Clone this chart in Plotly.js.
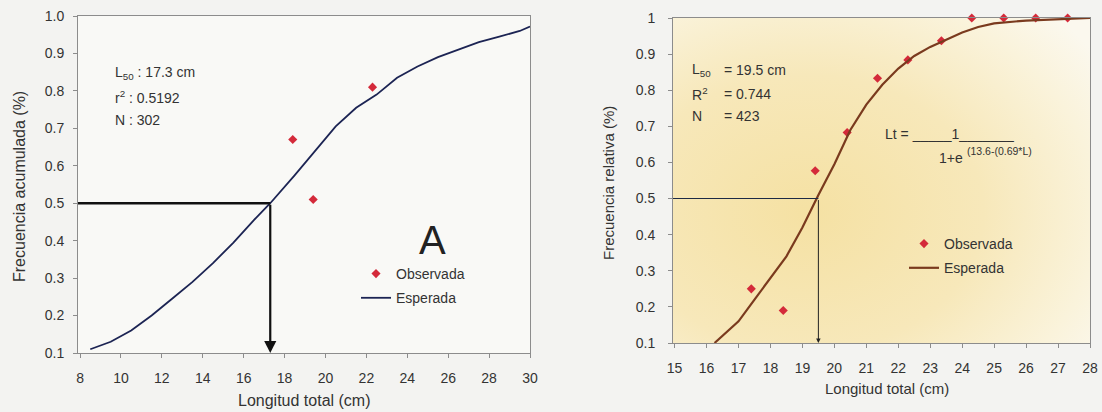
<!DOCTYPE html>
<html>
<head>
<meta charset="utf-8">
<script src="https://cdn.plot.ly/plotly-3.0.1.min.js"></script>
<style>html,body{margin:0;padding:0;background:#f3f3f1;}#chart{width:1102px;height:412px;}</style>
</head>
<body>
<div id="chart"></div>
<script>
// ---- Left chart (A) data ----
const leftCurveX = [8.5, 9.5, 10.5, 11.5, 12.5, 13.5, 14.5, 15.5, 16.5, 17.3, 18.5, 19.5, 20.5, 21.5, 22.5, 23.5, 24.5, 25.5, 26.5, 27.5, 28.5, 29.5, 30];
const leftCurveY = [0.11, 0.13, 0.16, 0.2, 0.245, 0.29, 0.34, 0.395, 0.455, 0.5, 0.575, 0.64, 0.705, 0.755, 0.79, 0.835, 0.865, 0.89, 0.91, 0.93, 0.945, 0.96, 0.972];
const leftObsX = [18.4, 19.4, 22.3];
const leftObsY = [0.67, 0.51, 0.81];
const leftL50 = 17.3;
const leftXTicks = [8, 10, 12, 14, 16, 18, 20, 22, 24, 26, 28, 30];
const leftYTicks = [0.1, 0.2, 0.3, 0.4, 0.5, 0.6, 0.7, 0.8, 0.9, 1.0];
const leftYTickText = ["0.1", "0.2", "0.3", "0.4", "0.5", "0.6", "0.7", "0.8", "0.9", "1.0"];

// ---- Right chart data ----
const rightCurveX = [16.25, 16.5, 17, 17.5, 18, 18.5, 19, 19.5, 20, 20.5, 21, 21.5, 22, 22.5, 23, 23.5, 24, 24.5, 25, 26, 27, 28];
const rightCurveY = [0.10, 0.12, 0.16, 0.22, 0.28, 0.34, 0.42, 0.51, 0.595, 0.69, 0.76, 0.815, 0.86, 0.895, 0.92, 0.94, 0.96, 0.975, 0.985, 0.993, 0.997, 1.0];
const rightObsX = [17.4, 18.4, 19.4, 20.4, 21.35, 22.3, 23.35, 24.3, 25.3, 26.3, 27.3];
const rightObsY = [0.25, 0.19, 0.577, 0.683, 0.833, 0.884, 0.937, 1.0, 1.0, 1.0, 1.0];
const rightL50 = 19.5;
const rightXTicks = [15, 16, 17, 18, 19, 20, 21, 22, 23, 24, 25, 26, 27, 28];
const rightYTicks = [0.1, 0.2, 0.3, 0.4, 0.5, 0.6, 0.7, 0.8, 0.9, 1.0];
const rightYTickText = ["0.1", "0.2", "0.3", "0.4", "0.5", "0.6", "0.7", "0.8", "0.9", "1"];

const W = 1102, H = 412;
const px = v => v / W;
const py = v => 1 - v / H;
const FONT = "Arial, 'Liberation Sans', sans-serif";
const TXT = "#333333";
const OBS = "#d42a3a";

const leftXRange = [7.9, 30];
const rightXRange = [14.95, 28];

const traces = [
  {x: leftObsX, y: leftObsY, xaxis: 'x', yaxis: 'y', type: 'scatter', mode: 'markers', name: 'Observada',
   marker: {symbol: 'diamond', size: 7, color: OBS}, legend: 'legend', legendgroup: 'a1', cliponaxis: false},
  {x: leftCurveX, y: leftCurveY, xaxis: 'x', yaxis: 'y', type: 'scatter', mode: 'lines', name: 'Esperada',
   line: {color: '#1c2453', width: 1.8}, legend: 'legend', legendgroup: 'a2'},
  {x: rightObsX, y: rightObsY, xaxis: 'x2', yaxis: 'y2', type: 'scatter', mode: 'markers', name: 'Observada',
   marker: {symbol: 'diamond', size: 7, color: OBS}, legend: 'legend2', legendgroup: 'b1', cliponaxis: false},
  {x: rightCurveX, y: rightCurveY, xaxis: 'x2', yaxis: 'y2', type: 'scatter', mode: 'lines', name: 'Esperada',
   line: {color: '#7a3a1e', width: 2.2}, legend: 'legend2', legendgroup: 'b2'}
];

const axisCommon = {
  showgrid: false, zeroline: false, showline: true, mirror: true, linecolor: '#8c8c8c', linewidth: 1,
  ticks: 'outside', ticklen: 4, tickcolor: '#8c8c8c',
  tickfont: {family: FONT, size: 14, color: TXT}, fixedrange: true
};

// gradient background for right plot
const svgBg = '<svg xmlns="http://www.w3.org/2000/svg" width="420" height="330" preserveAspectRatio="none">' +
  '<defs><radialGradient id="g" cx="0.32" cy="0.6" r="0.85" fx="0.32" fy="0.6">' +
  '<stop offset="0" stop-color="#f5e1a3"/><stop offset="0.5" stop-color="#f7e8ba"/>' +
  '<stop offset="0.82" stop-color="#faf3db"/><stop offset="1" stop-color="#fbf8ee"/></radialGradient></defs>' +
  '<rect width="420" height="330" fill="url(#g)"/></svg>';
const bgSrc = 'data:image/svg+xml;base64,' + btoa(svgBg);

const ann = (x, y, text, size, extra) => Object.assign({
  xref: 'paper', yref: 'paper', x: px(x), y: py(y), text: text, showarrow: false,
  xanchor: 'left', yanchor: 'middle', font: {family: FONT, size: size, color: TXT}
}, extra || {});

const layout = {
  width: W, height: H,
  margin: {l: 0, r: 0, t: 0, b: 0},
  paper_bgcolor: '#f3f3f1',
  plot_bgcolor: 'rgba(0,0,0,0)',
  xaxis: Object.assign({}, axisCommon, {domain: [px(78), px(530)], range: leftXRange, tickvals: leftXTicks, anchor: 'y', ticklabelstandoff: 8}),
  yaxis: Object.assign({}, axisCommon, {domain: [py(353), py(16)], range: [0.1, 1.0], tickvals: leftYTicks, ticktext: leftYTickText, anchor: 'x', ticklabelstandoff: 6}),
  xaxis2: Object.assign({}, axisCommon, {domain: [px(673), px(1090)], range: rightXRange, tickvals: rightXTicks, anchor: 'y2', ticklabelstandoff: 8}),
  yaxis2: Object.assign({}, axisCommon, {domain: [py(343), py(18)], range: [0.1, 1.0], tickvals: rightYTicks, ticktext: rightYTickText, anchor: 'x2', ticklabelstandoff: 10}),
  legend: {x: px(356), y: py(258), xanchor: 'left', yanchor: 'top', bgcolor: 'rgba(0,0,0,0)',
           font: {family: FONT, size: 14, color: TXT}, traceorder: 'grouped', tracegroupgap: 3, itemwidth: 30},
  legend2: {x: px(904), y: py(228), xanchor: 'left', yanchor: 'top', bgcolor: 'rgba(0,0,0,0)',
           font: {family: FONT, size: 14, color: TXT}, traceorder: 'grouped', tracegroupgap: 3, itemwidth: 30},
  images: [{source: bgSrc, xref: 'x2 domain', yref: 'y2 domain', x: 0, y: 1, sizex: 1, sizey: 1,
            sizing: 'stretch', xanchor: 'left', yanchor: 'top', layer: 'below'}],
  shapes: [
    {type: 'rect', xref: 'x domain', yref: 'y domain', x0: 0, x1: 1, y0: 0, y1: 1, fillcolor: '#f9f9f6', line: {width: 0}, layer: 'below'},
    {type: 'line', xref: 'x', yref: 'y', x0: leftXRange[0], x1: leftL50, y0: 0.5, y1: 0.5, line: {color: '#111111', width: 2.6}},
    {type: 'line', xref: 'x2', yref: 'y2', x0: rightXRange[0], x1: rightL50, y0: 0.5, y1: 0.5, line: {color: '#1d2a44', width: 1.1}}
  ],
  annotations: [
    {x: leftL50, y: 0.1, ax: leftL50, ay: 0.5, xref: 'x', yref: 'y', axref: 'x', ayref: 'y', text: '',
     showarrow: true, arrowhead: 2, arrowsize: 1.1, arrowwidth: 2.2, arrowcolor: '#111111', standoff: 0, startstandoff: 0},
    {x: rightL50, y: 0.1, ax: rightL50, ay: 0.5, xref: 'x2', yref: 'y2', axref: 'x2', ayref: 'y2', text: '',
     showarrow: true, arrowhead: 2, arrowsize: 0.9, arrowwidth: 1, arrowcolor: '#222222', standoff: 0, startstandoff: 0},
    ann(113, 73, 'L<sub>50</sub> : 17.3 cm', 14),
    ann(113, 97, 'r<sup>2</sup> : 0.5192', 14),
    ann(113, 120, 'N : 302', 14),
    ann(432, 240, 'A', 40, {xanchor: 'center', font: {family: FONT, size: 40, color: '#222222'}}),
    ann(690, 70, 'L<sub>50</sub>', 14),
    ann(690, 94, 'R<sup>2</sup>', 14),
    ann(690, 116, 'N', 14),
    ann(722, 70, '= 19.5 cm', 14),
    ann(722, 94, '= 0.744', 14),
    ann(722, 116, '= 423', 14),
    ann(883, 134, 'Lt = _____1_______', 14),
    ann(937, 158, '1+e', 14),
    ann(965, 151, '(13.6-(0.69*L)', 10.5),
    ann(304, 400, 'Longitud total (cm)', 16, {xanchor: 'center'}),
    ann(887, 388, 'Longitud total (cm)', 15, {xanchor: 'center'}),
    ann(19, 187, 'Frecuencia acumulada (%)', 16, {xanchor: 'center', textangle: -90}),
    ann(608, 183, 'Frecuencia relativa (%)', 15, {xanchor: 'center', textangle: -90})
  ]
};

Plotly.newPlot('chart', traces, layout, {displayModeBar: false, staticPlot: true});
</script>
</body>
</html>
